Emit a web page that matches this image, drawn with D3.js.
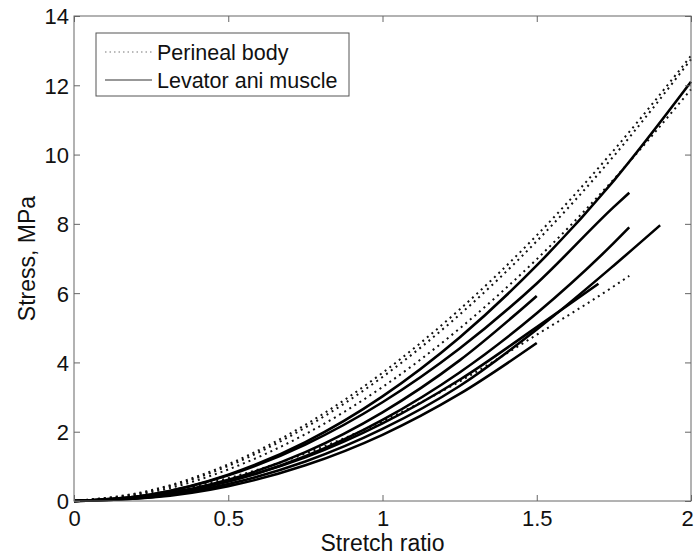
<!DOCTYPE html>
<html>
<head>
<meta charset="utf-8">
<script src="https://cdn.jsdelivr.net/npm/d3@7"></script>
<style>
  body { margin: 0; background: #fff; }
  svg text { font-family: "Liberation Sans", Arial, Helvetica, sans-serif; fill: #111; }
</style>
</head>
<body>
<svg id="chart" width="696" height="558"></svg>
<script>
const stretchGrid = [0, 0.25, 0.5, 0.75, 1, 1.25, 1.5, 1.75, 2];

// perineal body specimens (dotted), stress in MPa; last value sits at the end stretch
const perinealEnds = [2, 2, 2, 1.8];
const perinealStress = [
  [0, 0.31, 1.06, 2.20, 3.70, 5.53, 7.67, 10.13, 12.85],
  [0, 0.29, 1.01, 2.12, 3.58, 5.38, 7.50, 9.96, 12.75],
  [0, 0.25, 0.91, 1.93, 3.29, 4.98, 6.98, 9.29, 11.88],
  [0, 0.19, 0.66, 1.37, 2.30, 3.45, 4.80, 6.20, 6.50]
];

// levator ani muscle specimens (solid)
const levatorEnds = [2, 1.8, 1.9, 1.8, 1.5, 1.7, 1.5];
const levatorStress = [
  [0, 0.19, 0.76, 1.70, 3.02, 4.72, 6.80, 9.25, 12.1],
  [0, 0.19, 0.74, 1.63, 2.85, 4.40, 6.28, 8.49, 8.9],
  [0, 0.11, 0.49, 1.14, 2.08, 3.32, 4.95, 6.80, 7.96],
  [0, 0.13, 0.56, 1.29, 2.34, 3.71, 5.42, 7.45, 7.9],
  [0, 0.15, 0.61, 1.41, 2.56, 4.06, 5.92],
  [0, 0.14, 0.57, 1.26, 2.24, 3.50, 5.02, 6.27],
  [0, 0.10, 0.43, 1.03, 1.91, 3.09, 4.56]
];

const xTicks = [0, 0.5, 1, 1.5, 2];
const yTicks = [0, 2, 4, 6, 8, 10, 12, 14];
const legendLabels = ["Perineal body", "Levator ani muscle"];

const margin = {left: 74, right: 5, top: 16, bottom: 57};
const W = 696, H = 558;
const svg = d3.select("#chart");

const x = d3.scaleLinear().domain([0, 2]).range([margin.left, W - margin.right]);
const y = d3.scaleLinear().domain([0, 14]).range([H - margin.bottom, margin.top]);

function toPoints(vals, end) {
  return vals.map((v, i) => [i < vals.length - 1 ? stretchGrid[i] : end, v]);
}

const line = d3.line()
  .x(d => x(d[0]))
  .y(d => y(d[1]))
  .curve(d3.curveMonotoneX);

const curves = svg.append("g").attr("fill", "none");

curves.selectAll("path.perineal")
  .data(perinealStress.map((s, i) => toPoints(s, perinealEnds[i])))
  .enter().append("path")
  .attr("class", "perineal")
  .attr("d", line)
  .attr("stroke", "#111")
  .attr("stroke-width", 2)
  .attr("stroke-dasharray", "2,4");

curves.selectAll("path.levator")
  .data(levatorStress.map((s, i) => toPoints(s, levatorEnds[i])))
  .enter().append("path")
  .attr("class", "levator")
  .attr("d", line)
  .attr("stroke", "#000")
  .attr("stroke-width", 2.6);

// frame
svg.append("rect")
  .attr("x", x(0)).attr("y", y(14))
  .attr("width", x(2) - x(0)).attr("height", y(0) - y(14))
  .attr("fill", "none")
  .attr("stroke", "#666")
  .attr("stroke-width", 1);

// axes, ticks pointing inward
const tickFont = 22, titleFont = 23, legendFont = 21.5;
const gx = svg.append("g")
  .attr("transform", `translate(0,${y(0)})`)
  .call(d3.axisBottom(x).tickValues(xTicks).tickSize(-6).tickPadding(9).tickFormat(d3.format("")));
const gy = svg.append("g")
  .attr("transform", `translate(${x(0)},0)`)
  .call(d3.axisLeft(y).tickValues(yTicks).tickSize(-6).tickPadding(5));
svg.append("g")
  .attr("transform", `translate(0,${y(14)})`)
  .call(d3.axisTop(x).tickValues(xTicks).tickSize(-6).tickFormat(""));
svg.append("g")
  .attr("transform", `translate(${x(2)},0)`)
  .call(d3.axisRight(y).tickValues(yTicks).tickSize(-6).tickFormat(""));

svg.selectAll(".domain").remove();
svg.selectAll(".tick line").attr("stroke", "#666");
svg.selectAll(".tick text")
  .attr("font-size", tickFont)
  .attr("font-family", "Liberation Sans, Arial, sans-serif")
  .attr("fill", "#111");
gy.selectAll(".tick text").attr("dy", "0.36em");
// keep the last x label inside the page
gx.selectAll(".tick text").filter(d => d === 2).attr("dx", -4);

// axis titles
svg.append("text")
  .attr("x", x(1))
  .attr("y", 551)
  .attr("text-anchor", "middle")
  .attr("font-size", titleFont)
  .text("Stretch ratio");

svg.append("text")
  .attr("transform", `translate(35,${(y(0) + y(14)) / 2}) rotate(-90)`)
  .attr("text-anchor", "middle")
  .attr("font-size", titleFont)
  .text("Stress, MPa");

// legend
const legend = svg.append("g");
legend.append("rect")
  .attr("x", 96).attr("y", 33)
  .attr("width", 253).attr("height", 63)
  .attr("fill", "#fff")
  .attr("stroke", "#555")
  .attr("stroke-width", 1);

const rowY = [52, 80];
legend.append("line")
  .attr("x1", 105).attr("x2", 152)
  .attr("y1", rowY[0]).attr("y2", rowY[0])
  .attr("stroke", "#777").attr("stroke-width", 1.2)
  .attr("stroke-dasharray", "1.5,3");
legend.append("line")
  .attr("x1", 105).attr("x2", 152)
  .attr("y1", rowY[1]).attr("y2", rowY[1])
  .attr("stroke", "#333").attr("stroke-width", 1.2);

legend.selectAll("text.lab")
  .data(legendLabels)
  .enter().append("text")
  .attr("class", "lab")
  .attr("x", 157)
  .attr("y", (d, i) => rowY[i])
  .attr("dy", "0.36em")
  .attr("font-size", legendFont)
  .text(d => d);
</script>
</body>
</html>
